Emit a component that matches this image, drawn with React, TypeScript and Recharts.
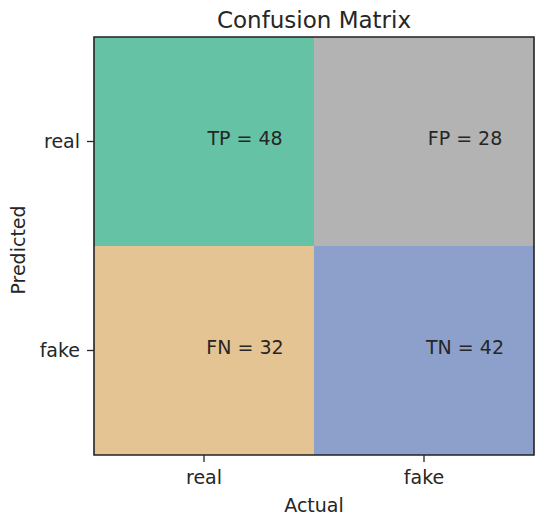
import React from 'react';
import {
  ScatterChart,
  Scatter,
  XAxis,
  YAxis,
  ReferenceArea,
  Label,
} from 'recharts';

// ---- data ----
const actualLabels = ['real', 'fake'];
const predictedLabels = ['real', 'fake'];
const cellNames = [
  ['TP', 'FP'],
  ['FN', 'TN'],
];
const cellCounts = [
  [48, 28],
  [32, 42],
];

// ---- styles ----
const cellColors = [
  ['#66c2a5', '#b3b3b3'],
  ['#e5c494', '#8da0cb'],
];
const FONT = '"DejaVu Sans", sans-serif';
const TEXT = '#262626';

type Cell = { x: number; y: number; name: string; count: number; color: string };

const cells: Cell[] = [];
predictedLabels.forEach((_, r) => {
  actualLabels.forEach((_, c) => {
    cells.push({ x: c, y: r, name: cellNames[r][c], count: cellCounts[r][c], color: cellColors[r][c] });
  });
});

const CellText = (props: any) => {
  const { cx, cy, payload } = props;
  if (cx == null || cy == null) return null;
  return (
    <text
      x={cx + 41}
      y={cy + 3}
      textAnchor="middle"
      fontFamily={FONT}
      fontSize={19}
      fill={TEXT}
    >
      {`${payload.name} = ${payload.count}`}
    </text>
  );
};

export default function App() {
  return (
    <div style={{ position: 'absolute', left: 0, top: 0, width: 550, height: 524, background: '#fff' }}>
      <div
        style={{
          position: 'absolute',
          left: 94,
          width: 440,
          top: 9,
          textAlign: 'center',
          fontFamily: FONT,
          fontSize: 23,
          lineHeight: '23px',
          color: TEXT,
        }}
      >
        Confusion Matrix
      </div>
      <ScatterChart width={550} height={524} margin={{ top: 37, right: 16, bottom: 0, left: 0 }}>
        <XAxis
          type="number"
          dataKey="x"
          domain={[-0.5, 1.5]}
          ticks={[0, 1]}
          tickFormatter={(v: number) => actualLabels[v]}
          height={69}
          axisLine={false}
          tickLine={{ stroke: TEXT, strokeWidth: 1.3 }}
          tickSize={7}
          tickMargin={9}
          tick={{ fill: TEXT, fontFamily: FONT, fontSize: 19 }}
          allowDataOverflow
        >
          <Label
            content={(p: any) => {
              const vb = p.viewBox;
              return (
                <text
                  x={vb.x + vb.width / 2}
                  y={vb.y + vb.height - 12}
                  textAnchor="middle"
                  fontFamily={FONT}
                  fontSize={19}
                  fill={TEXT}
                >
                  Actual
                </text>
              );
            }}
          />
        </XAxis>
        <YAxis
          type="number"
          dataKey="y"
          domain={[-0.5, 1.5]}
          ticks={[0, 1]}
          reversed
          tickFormatter={(v: number) => predictedLabels[v]}
          width={94}
          axisLine={false}
          tickLine={{ stroke: TEXT, strokeWidth: 1.3 }}
          tickSize={7}
          tickMargin={7}
          tick={{ fill: TEXT, fontFamily: FONT, fontSize: 19 }}
          allowDataOverflow
        >
          <Label
            content={(p: any) => {
              const vb = p.viewBox;
              const cx = vb.x + 25;
              const cy = vb.y + vb.height / 2 + 4;
              return (
                <text
                  x={cx}
                  y={cy}
                  transform={`rotate(-90, ${cx}, ${cy})`}
                  textAnchor="middle"
                  fontFamily={FONT}
                  fontSize={19}
                  fill={TEXT}
                >
                  Predicted
                </text>
              );
            }}
          />
        </YAxis>
        {cells.map((c) => (
          <ReferenceArea
            key={`${c.x}-${c.y}`}
            x1={c.x - 0.5}
            x2={c.x + 0.5}
            y1={c.y - 0.5}
            y2={c.y + 0.5}
            fill={c.color}
            fillOpacity={1}
            stroke="none"
            ifOverflow="visible"
          />
        ))}
        <ReferenceArea
          x1={-0.5}
          x2={1.5}
          y1={-0.5}
          y2={1.5}
          fill="none"
          fillOpacity={0}
          stroke="#222"
          strokeWidth={1.6}
          ifOverflow="visible"
        />
        <Scatter data={cells} shape={<CellText />} isAnimationActive={false} />
      </ScatterChart>
    </div>
  );
}
